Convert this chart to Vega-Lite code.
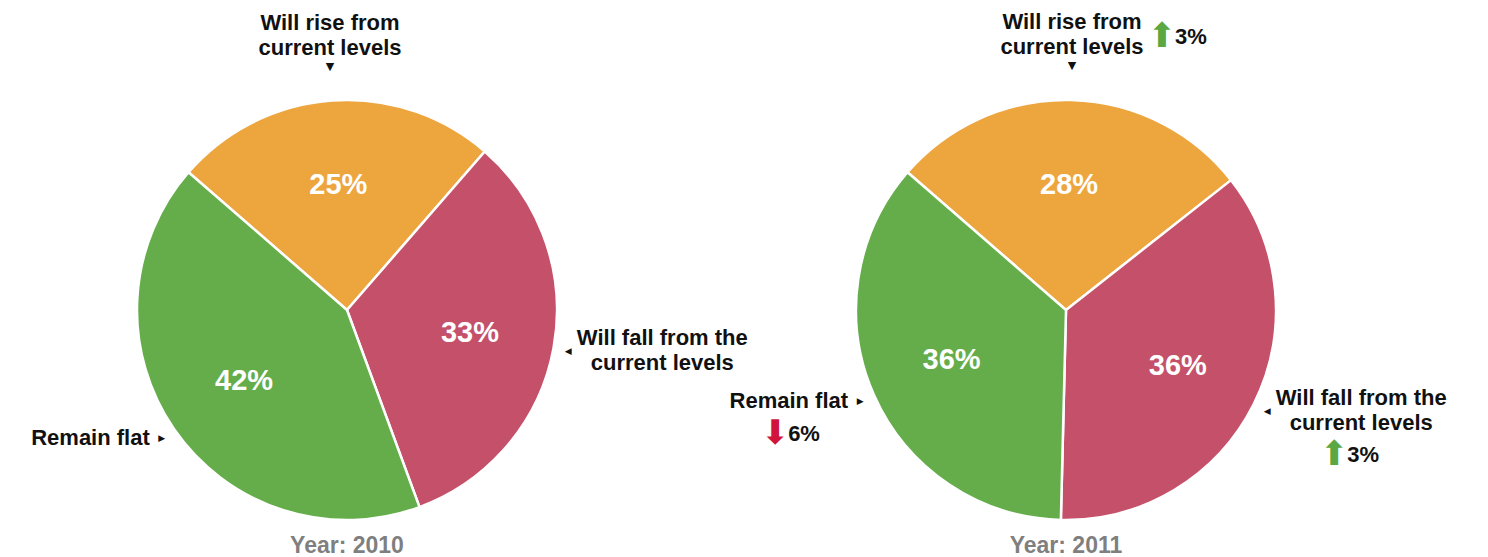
{
  "$schema": "https://vega.github.io/schema/vega-lite/v6.json",
  "padding": {"left": 0, "top": 11, "right": 0, "bottom": 0},
  "background": "white",
  "data": {
    "values": [
      {"year": "2010", "category": "rise", "idx": 1, "pct": 0.25, "label": "Will rise from\ncurrent levels", "change": null, "dir": null},
      {"year": "2010", "category": "fall", "idx": 2, "pct": 0.33, "label": "Will fall from the\ncurrent levels", "change": null, "dir": null},
      {"year": "2010", "category": "flat", "idx": 3, "pct": 0.42, "label": "Remain flat", "change": null, "dir": null},
      {"year": "2011", "category": "rise", "idx": 1, "pct": 0.28, "label": "Will rise from\ncurrent levels", "change": 0.03, "dir": "up"},
      {"year": "2011", "category": "fall", "idx": 2, "pct": 0.36, "label": "Will fall from the\ncurrent levels", "change": 0.03, "dir": "up"},
      {"year": "2011", "category": "flat", "idx": 3, "pct": 0.36, "label": "Remain flat", "change": 0.06, "dir": "down"}
    ]
  },
  "facet": {
    "column": {
      "field": "year",
      "type": "nominal",
      "header": {
        "title": null,
        "labelOrient": "bottom",
        "labelExpr": "'Year: ' + datum.value",
        "labelFont": "Liberation Sans",
        "labelFontSize": 23,
        "labelFontWeight": "bold",
        "labelColor": "#7f7f7f",
        "labelPadding": 10
      }
    }
  },
  "spacing": 25,
  "bounds": "flush",
  "spec": {
    "width": 694,
    "height": 430,
    "encoding": {
      "theta": {"field": "pct", "type": "quantitative", "stack": true, "scale": {"domain": [0, 1], "range": [-0.8552, 5.428]}},
      "order": {"field": "idx", "type": "quantitative"},
      "detail": {"field": "category", "type": "nominal"}
    },
    "layer": [
      {
        "mark": {"type": "arc", "outerRadius": 210, "stroke": "white", "strokeWidth": 2.5},
        "encoding": {
          "color": {"field": "category", "type": "nominal", "legend": null,
            "scale": {"domain": ["rise", "fall", "flat"], "range": ["#EDA53E", "#C5506A", "#65AD4A"]}}
        }
      },
      {
        "mark": {"type": "text", "radius": 125, "fontSize": 29, "color": "white", "baseline": "middle"},
        "encoding": {"text": {"field": "pct", "type": "quantitative", "format": ".0%"}}
      },
      {
        "mark": {"type": "text", "radius": 244, "align": "center", "baseline": "middle", "dy": -44},
        "encoding": {"text": {"field": "label", "type": "nominal", "condition": {"test": "datum.category !== 'rise'", "value": ""}}}
      },
      {
        "mark": {"type": "text", "radius": 244, "font": "DejaVu Sans", "fontSize": 11, "baseline": "middle"},
        "encoding": {"text": {"condition": {"test": "datum.category === 'rise'", "value": "▼"}, "value": ""}}
      },
      {
        "mark": {"type": "text", "radius": 244, "dx": 90, "dy": -29, "font": "DejaVu Sans", "fontSize": 34, "fontWeight": "normal", "baseline": "middle"},
        "encoding": {
          "text": {"condition": [
            {"test": "datum.category === 'rise' && datum.dir === 'up'", "value": "⬆"},
            {"test": "datum.category === 'rise' && datum.dir === 'down'", "value": "⬇"}], "value": ""},
          "color": {"condition": {"test": "datum.dir === 'down'", "value": "#D0143C"}, "value": "#5BA843"}
        }
      },
      {
        "mark": {"type": "text", "radius": 244, "dx": 103, "dy": -29, "align": "left", "baseline": "middle"},
        "encoding": {"text": {"field": "change", "type": "quantitative", "format": ".0%", "condition": {"test": "datum.category !== 'rise' || !isValid(datum.change)", "value": ""}}}
      },
      {
        "mark": {"type": "text", "radius": 225, "dx": 94, "dy": -13, "align": "center", "baseline": "middle"},
        "encoding": {"text": {"field": "label", "type": "nominal", "condition": {"test": "datum.category !== 'fall'", "value": ""}}}
      },
      {
        "mark": {"type": "text", "radius": 225, "font": "DejaVu Sans", "fontSize": 9, "baseline": "middle"},
        "encoding": {"text": {"condition": {"test": "datum.category === 'fall'", "value": "◀"}, "value": ""}}
      },
      {
        "mark": {"type": "text", "radius": 225, "dx": 67, "dy": 44, "font": "DejaVu Sans", "fontSize": 34, "fontWeight": "normal", "baseline": "middle"},
        "encoding": {
          "text": {"condition": [
            {"test": "datum.category === 'fall' && datum.dir === 'up'", "value": "⬆"},
            {"test": "datum.category === 'fall' && datum.dir === 'down'", "value": "⬇"}], "value": ""},
          "color": {"condition": {"test": "datum.dir === 'down'", "value": "#D0143C"}, "value": "#5BA843"}
        }
      },
      {
        "mark": {"type": "text", "radius": 225, "dx": 80, "dy": 44, "align": "left", "baseline": "middle"},
        "encoding": {"text": {"field": "change", "type": "quantitative", "format": ".0%", "condition": {"test": "datum.category !== 'fall' || !isValid(datum.change)", "value": ""}}}
      },
      {
        "mark": {"type": "text", "radius": 225, "dx": -12, "align": "right", "baseline": "middle"},
        "encoding": {"text": {"field": "label", "type": "nominal", "condition": {"test": "datum.category !== 'flat'", "value": ""}}}
      },
      {
        "mark": {"type": "text", "radius": 225, "font": "DejaVu Sans", "fontSize": 9, "baseline": "middle"},
        "encoding": {"text": {"condition": {"test": "datum.category === 'flat'", "value": "▶"}, "value": ""}}
      },
      {
        "mark": {"type": "text", "radius": 225, "dx": -85, "dy": 33, "font": "DejaVu Sans", "fontSize": 34, "fontWeight": "normal", "baseline": "middle"},
        "encoding": {
          "text": {"condition": [
            {"test": "datum.category === 'flat' && datum.dir === 'up'", "value": "⬆"},
            {"test": "datum.category === 'flat' && datum.dir === 'down'", "value": "⬇"}], "value": ""},
          "color": {"condition": {"test": "datum.dir === 'down'", "value": "#D0143C"}, "value": "#5BA843"}
        }
      },
      {
        "mark": {"type": "text", "radius": 225, "dx": -72, "dy": 33, "align": "left", "baseline": "middle"},
        "encoding": {"text": {"field": "change", "type": "quantitative", "format": ".0%", "condition": {"test": "datum.category !== 'flat' || !isValid(datum.change)", "value": ""}}}
      }
    ]
  },
  "config": {
    "view": {"stroke": null},
    "text": {"font": "Liberation Sans", "fontSize": 22, "fontWeight": "bold", "color": "#111111", "lineBreak": "\n", "lineHeight": 25}
  }
}
